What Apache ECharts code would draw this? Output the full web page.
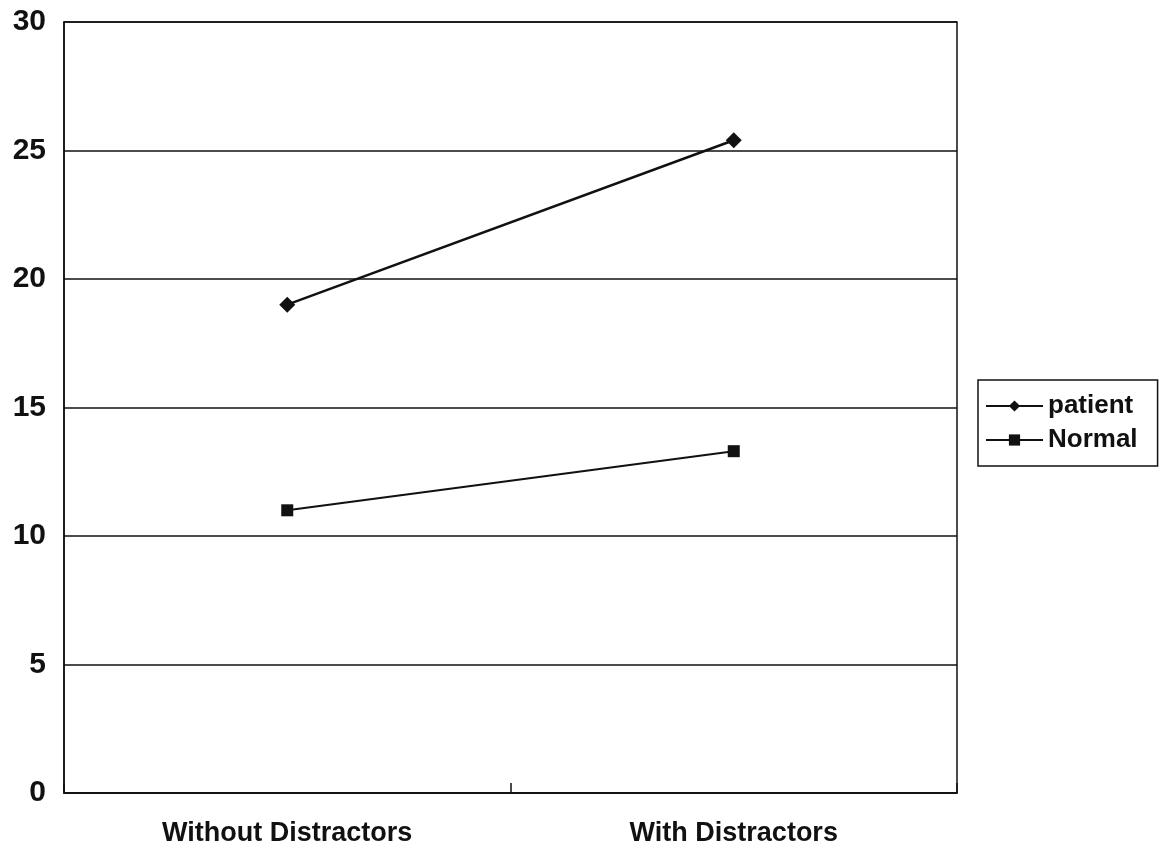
<!DOCTYPE html>
<html><head><meta charset="utf-8">
<script src="https://cdn.jsdelivr.net/npm/echarts@6/dist/echarts.min.js"></script>
<style>html,body{margin:0;padding:0;background:#fff}#c{width:1162px;height:859px}</style>
</head><body><div id="c"></div>
<script>
const categories = ['Without Distractors', 'With Distractors'];
const patient = [19.0, 25.4];
const normal = [11.0, 13.3];
const yTicks = [0, 5, 10, 15, 20, 25, 30];

const chart = echarts.init(document.getElementById('c'));
const font = 'Liberation Sans, Arial, sans-serif';
chart.setOption({
  animation: false,
  backgroundColor: '#fff',
  grid: {left: 64, right: 205, top: 22, bottom: 66, show: true, borderColor: '#111', borderWidth: 1.5, backgroundColor: 'transparent'},
  legend: {
    left: 978, top: 380, orient: 'vertical',
    borderColor: '#111', borderWidth: 1.5, borderRadius: 0,
    padding: [13, 20, 13, 7], itemGap: 8, itemWidth: 57, itemHeight: 14,
    textStyle: {fontFamily: font, fontSize: 26, fontWeight: 'bold', color: '#111'},
    data: [{name: 'patient'}, {name: 'Normal'}]
  },
  xAxis: {
    type: 'category', data: categories, boundaryGap: true,
    axisLine: {lineStyle: {color: '#111', width: 1.5}},
    axisTick: {show: true, inside: true, length: 10, lineStyle: {color: '#111', width: 1.5}},
    axisLabel: {fontFamily: font, fontSize: 27, fontWeight: 'bold', color: '#111', margin: 27}
  },
  yAxis: {
    type: 'value', min: yTicks[0], max: yTicks[yTicks.length - 1], interval: 5,
    axisLine: {show: true, lineStyle: {color: '#111', width: 1.5}},
    axisTick: {show: false},
    axisLabel: {fontFamily: font, fontSize: 30, fontWeight: 'bold', color: '#111', margin: 18},
    splitLine: {lineStyle: {color: '#111', width: 1.5}}
  },
  series: [
    {name: 'patient', type: 'line', data: patient, symbol: 'diamond', symbolSize: 16,
     lineStyle: {color: '#111', width: 2.5}, itemStyle: {color: '#111'}},
    {name: 'Normal', type: 'line', data: normal, symbol: 'rect', symbolSize: 12,
     lineStyle: {color: '#111', width: 2}, itemStyle: {color: '#111'}}
  ]
});
</script></body></html>
